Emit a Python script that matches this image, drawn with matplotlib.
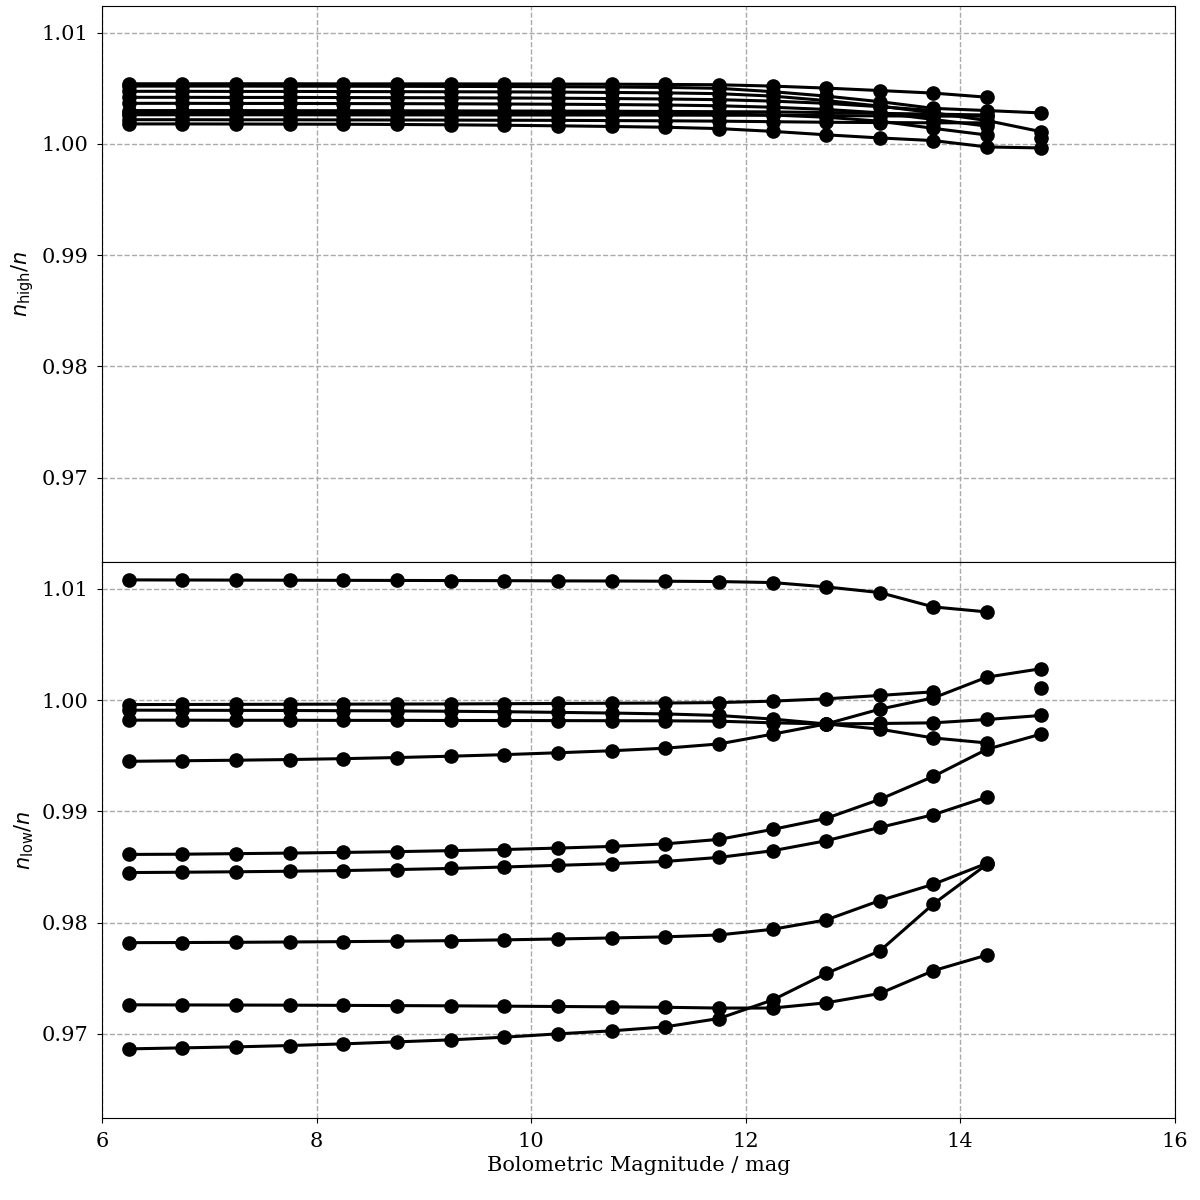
import numpy as np
import matplotlib
matplotlib.use("Agg")
import matplotlib.pyplot as plt

plt.rcParams['font.family'] = 'serif'
plt.rcParams['font.serif'] = ['DejaVu Serif']
plt.rcParams['mathtext.fontset'] = 'dejavusans'

nan = np.nan

# bolometric magnitude bins
mbol = [6.25, 6.75, 7.25, 7.75, 8.25, 8.75, 9.25, 9.75, 10.25,
        10.75, 11.25, 11.75, 12.25, 12.75, 13.25, 13.75, 14.25, 14.75]

# n_high / n  (one list per model)
high_1 = [1.00541, 1.00541, 1.00541, 1.00541, 1.00540, 1.00540, 1.00540, 1.00539, 1.00538,
          1.00537, 1.00535, 1.00532, 1.00520, 1.00502, 1.00480, 1.00457, 1.00420, nan]
high_2 = [1.00520, 1.00520, 1.00520, 1.00519, 1.00519, 1.00518, 1.00517, 1.00516, 1.00514,
          1.00512, 1.00508, 1.00500, 1.00470, 1.00430, 1.00380, 1.00320, 1.00300, 1.00279]
high_3 = [1.00473, 1.00473, 1.00472, 1.00472, 1.00471, 1.00470, 1.00469, 1.00468, 1.00466,
          1.00463, 1.00459, 1.00452, 1.00430, 1.00390, 1.00340, 1.00280, 1.00210, 1.00111]
high_4 = [1.00419, 1.00419, 1.00418, 1.00418, 1.00417, 1.00416, 1.00415, 1.00413, 1.00411,
          1.00408, 1.00404, 1.00398, 1.00385, 1.00365, 1.00335, 1.00300, nan, 1.00050]
high_5 = [1.00365, 1.00365, 1.00364, 1.00364, 1.00363, 1.00362, 1.00361, 1.00359, 1.00357,
          1.00354, 1.00350, 1.00343, 1.00330, 1.00310, 1.00280, 1.00220, 1.00160, nan]
high_6 = [1.00300, 1.00300, 1.00300, 1.00299, 1.00299, 1.00298, 1.00297, 1.00296, 1.00295,
          1.00294, 1.00292, 1.00290, 1.00288, 1.00282, 1.00275, 1.00268, 1.00260, nan]
high_7 = [1.00282, 1.00282, 1.00282, 1.00281, 1.00281, 1.00280, 1.00279, 1.00278, 1.00277,
          1.00275, 1.00273, 1.00270, 1.00260, 1.00240, 1.00205, 1.00140, 1.00080, nan]
high_8 = [1.00262, 1.00262, 1.00262, 1.00262, 1.00261, 1.00261, 1.00261, 1.00260, 1.00260,
          1.00260, 1.00259, 1.00258, 1.00258, 1.00255, 1.00252, 1.00250, 1.00250, nan]
high_9 = [1.00218, 1.00218, 1.00217, 1.00217, 1.00216, 1.00215, 1.00214, 1.00213, 1.00212,
          1.00210, 1.00208, 1.00205, 1.00200, 1.00195, 1.00192, 1.00190, 1.00190, nan]
high_10 = [1.00180, 1.00180, 1.00179, 1.00178, 1.00177, 1.00175, 1.00172, 1.00168, 1.00163,
           1.00157, 1.00150, 1.00138, 1.00113, 1.00082, 1.00054, 1.00030, 0.99973, 0.99964]

# n_low / n
low_1 = [1.01081, 1.01080, 1.01079, 1.01078, 1.01077, 1.01076, 1.01075, 1.01074, 1.01072,
         1.01071, 1.01069, 1.01066, 1.01057, 1.01018, 1.00967, 1.00838, 1.00793, nan]
low_2 = [0.99450, 0.99455, 0.99460, 0.99466, 0.99474, 0.99484, 0.99496, 0.99510, 0.99527,
         0.99545, 0.99568, 0.99606, 0.99694, 0.99786, 0.99919, 1.00020, 1.00207, 1.00282]
low_3 = [0.99960, 0.99961, 0.99962, 0.99963, 0.99964, 0.99965, 0.99966, 0.99968, 0.99970,
         0.99972, 0.99974, 0.99978, 0.99991, 1.00012, 1.00042, 1.00075, nan, 1.00111]
low_4 = [0.99910, 0.99909, 0.99908, 0.99907, 0.99905, 0.99903, 0.99900, 0.99896, 0.99890,
         0.99884, 0.99876, 0.99862, 0.99830, 0.99786, 0.99739, 0.99660, 0.99615, nan]
low_5 = [0.99820, 0.99820, 0.99819, 0.99819, 0.99818, 0.99818, 0.99817, 0.99817, 0.99816,
         0.99815, 0.99814, 0.99811, 0.99796, 0.99786, 0.99790, 0.99796, 0.99826, 0.99862]
low_6 = [0.98613, 0.98615, 0.98620, 0.98625, 0.98631, 0.98638, 0.98647, 0.98657, 0.98670,
         0.98685, 0.98708, 0.98748, 0.98838, 0.98937, 0.99108, 0.99315, 0.99559, 0.99694]
low_7 = [0.98450, 0.98453, 0.98457, 0.98462, 0.98468, 0.98477, 0.98487, 0.98500, 0.98515,
         0.98530, 0.98550, 0.98586, 0.98646, 0.98736, 0.98856, 0.98970, 0.99129, nan]
low_8 = [0.97820, 0.97821, 0.97823, 0.97826, 0.97829, 0.97833, 0.97838, 0.97845, 0.97853,
         0.97862, 0.97872, 0.97889, 0.97940, 0.98024, 0.98198, 0.98345, 0.98534, nan]
low_9 = [0.97261, 0.97260, 0.97259, 0.97258, 0.97256, 0.97254, 0.97252, 0.97249, 0.97246,
         0.97243, 0.97239, 0.97232, 0.97232, 0.97279, 0.97363, 0.97568, 0.97709, nan]
low_10 = [0.96865, 0.96874, 0.96883, 0.96895, 0.96910, 0.96928, 0.96946, 0.96970, 0.97000,
          0.97027, 0.97063, 0.97138, 0.97304, 0.97543, 0.97745, 0.98168, 0.98525, nan]

highs = [high_1, high_2, high_3, high_4, high_5, high_6, high_7, high_8, high_9, high_10]
lows = [low_1, low_2, low_3, low_4, low_5, low_6, low_7, low_8, low_9, low_10]

fig, (ax1, ax2) = plt.subplots(2, 1, sharex=True, figsize=(12, 12), dpi=100)
fig.subplots_adjust(left=0.085, right=0.979, top=0.995, bottom=0.068, hspace=0)

for ax, series in ((ax1, highs), (ax2, lows)):
    for s in series:
        ax.plot(mbol, s, 'o-', color='k', lw=2.2, ms=9.5)
    ax.set_ylim(0.9624, 1.0124)
    ax.set_yticks([0.97, 0.98, 0.99, 1.00, 1.01])
    ax.grid(True, color='#aaaaaa', ls='--', lw=1)
    ax.set_axisbelow(True)
    ax.tick_params(labelsize=15, pad=6)

ax2.set_xlim(6, 16)
ax2.set_xticks([6, 8, 10, 12, 14, 16])
ax1.set_ylabel(r'$n_{\rm high}/n$', fontsize=15)
ax2.set_ylabel(r'$n_{\rm low}/n$', fontsize=15)
ax2.set_xlabel('Bolometric Magnitude / mag', fontsize=15)

fig.savefig('out.png', dpi=100)
